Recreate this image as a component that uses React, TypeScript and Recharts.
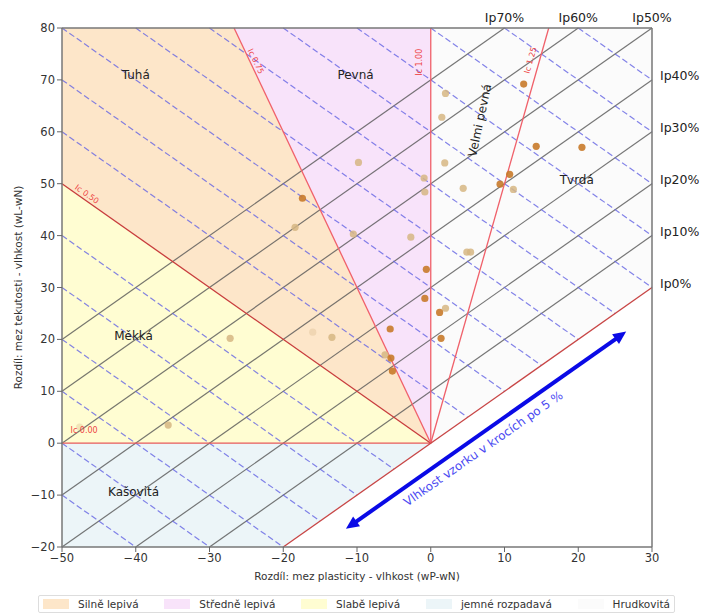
import {
  ComposedChart, Area, Scatter, XAxis, YAxis, ReferenceLine, ReferenceDot,
} from 'recharts';

const X_TICKS = [-50, -40, -30, -20, -10, 0, 10, 20, 30];
const Y_TICKS = [-20, -10, 0, 10, 20, 30, 40, 50, 60, 70, 80];

// Consistency zones, outlined as x -> [low, high] of wL-wN.
const SILNE_LEPIVA = [
  { x: -50, r: [50, 80] },
  { x: -26.67, r: [26.67, 80] },
  { x: 0, r: [0, 0] },
];
const STREDNE_LEPIVA = [
  { x: -26.67, r: [80, 80] },
  { x: 0, r: [0, 80] },
];
const SLABE_LEPIVA = [
  { x: -50, r: [0, 50] },
  { x: 0, r: [0, 0] },
];
const JEMNE_ROZPADAVA = [
  { x: -50, r: [-20, 0] },
  { x: -20, r: [-20, 0] },
  { x: 0, r: [0, 0] },
];
const HRUDKOVITA = [
  { x: 0, r: [0, 80] },
  { x: 30, r: [30, 80] },
];

const ZONES = [
  { name: 'Silně lepivá', data: SILNE_LEPIVA, fill: '#fde6c9' },
  { name: 'Středně lepivá', data: STREDNE_LEPIVA, fill: '#f8e3fa' },
  { name: 'Slabě lepivá', data: SLABE_LEPIVA, fill: '#fffdd2' },
  { name: 'jemné rozpadavá', data: JEMNE_ROZPADAVA, fill: '#ecf5f8' },
  { name: 'Hrudkovitá', data: HRUDKOVITA, fill: '#fbfbfb' },
];

// Ic boundaries and the Ip 0 line
const IC_LINES = [
  { id: 'ic000', seg: [{ x: -50, y: 0 }, { x: 0, y: 0 }], color: '#e65a5a' },
  { id: 'ic050', seg: [{ x: -50, y: 50 }, { x: 0, y: 0 }], color: '#c83c3c' },
  { id: 'ic075', seg: [{ x: -26.67, y: 80 }, { x: 0, y: 0 }], color: '#f0606a' },
  { id: 'ic100', seg: [{ x: 0, y: 80 }, { x: 0, y: 0 }], color: '#f0606a' },
  { id: 'ic125', seg: [{ x: 16, y: 80 }, { x: 0, y: 0 }], color: '#f0606a' },
  { id: 'ip0', seg: [{ x: -20, y: -20 }, { x: 30, y: 30 }], color: '#c84646' },
];

// lines of constant Ip (wL - wP), y = x + k
const IP_LEVELS = [10, 20, 30, 40, 50, 60, 70];
// moisture steps of 5 %, y = -x + c
const MOISTURE_LEVELS = [-60, -50, -40, -30, -20, -10, 10, 20, 30, 40, 50, 60, 70, 80, 90, 100];

const SAMPLES_STRONG = [
  { x: 12.6, y: 69.2 }, { x: 14.3, y: 57.2 }, { x: 20.5, y: 57.0 }, { x: -17.4, y: 47.2 },
  { x: 9.4, y: 49.9 }, { x: 10.7, y: 51.8 }, { x: -0.6, y: 33.5 }, { x: -0.8, y: 27.9 },
  { x: 1.2, y: 25.2 }, { x: -5.5, y: 22.0 }, { x: 1.4, y: 20.2 }, { x: -5.4, y: 16.4 },
  { x: -5.2, y: 13.9 },
];
const SAMPLES_LIGHT = [
  { x: 2.0, y: 67.4 }, { x: 1.5, y: 62.8 }, { x: 1.9, y: 54.0 }, { x: -9.8, y: 54.1 },
  { x: -0.9, y: 51.1 }, { x: -0.8, y: 48.4 }, { x: 4.4, y: 49.1 }, { x: 11.2, y: 48.9 },
  { x: -18.4, y: 41.6 }, { x: -10.5, y: 40.3 }, { x: -2.7, y: 39.7 }, { x: 2.0, y: 26.0 },
  { x: -13.4, y: 20.4 }, { x: -6.2, y: 17.0 }, { x: -27.2, y: 20.2 }, { x: -35.6, y: 3.5 },
  { x: 4.9, y: 36.8 }, { x: 5.4, y: 36.8 },
];
const SAMPLES_FAINT = [
  { x: -16.0, y: 21.4 }, { x: -47.6, y: 3.1 },
];

const ZONE_LABELS = [
  { text: 'Tuhá', x: -40, y: 71, angle: 0 },
  { text: 'Pevná', x: -10.2, y: 71, angle: 0 },
  { text: 'Velmi pevná', x: 6.6, y: 62.2, angle: -78 },
  { text: 'Tvrdá', x: 19.8, y: 50.7, angle: 0 },
  { text: 'Měkká', x: -40.3, y: 20.8, angle: 0 },
  { text: 'Kašovitá', x: -40.3, y: -9.4, angle: 0 },
];
const IC_LABELS = [
  { text: 'Ic 0.75', x: -23.7, y: 73.6, angle: 64 },
  { text: 'Ic 1.00', x: -1.6, y: 73.4, angle: -90 },
  { text: 'Ic 1.25', x: 13.5, y: 73.8, angle: -74 },
  { text: 'Ic 0.50', x: -46.6, y: 48.0, angle: 35 },
  { text: 'Ic 0.00', x: -47.0, y: 2.5, angle: 0 },
];
const IP_RIGHT = [
  { text: 'Ip0%', y: 30 }, { text: 'Ip10%', y: 40 }, { text: 'Ip20%', y: 50 },
  { text: 'Ip30%', y: 60 }, { text: 'Ip40%', y: 70 },
];
const IP_TOP = [
  { text: 'Ip70%', x: 10 }, { text: 'Ip60%', x: 20 }, { text: 'Ip50%', x: 30 },
];
const ARROW = [{ x: -11.5, y: -16.5 }, { x: 26.5, y: 21.5 }];
const ARROW_TEXT = { text: 'Vlhkost vzorku v krocích po 5 %', x: 7.1, y: -1.0, angle: -35 };

// clip y = x + k to the plot box
function ipSegment(k: number) {
  const a = Math.max(-50, -20 - k);
  const b = Math.min(30, 80 - k);
  return a < b ? [{ x: a, y: a + k }, { x: b, y: b + k }] : null;
}
// clip y = -x + c to the plot box, above the Ip 0 line
function moistureSegment(c: number) {
  const a = Math.max(-50, c - 80);
  const b = Math.min(30, c + 20, c / 2);
  return a < b ? [{ x: a, y: c - a }, { x: b, y: c - b }] : null;
}

const minus = (v: number) => String(v).replace('-', '\u2212');

function ArrowShape(props: any) {
  const { x1, y1, x2, y2 } = props;
  const dx = x2 - x1;
  const dy = y2 - y1;
  const len = Math.hypot(dx, dy);
  const ux = dx / len;
  const uy = dy / len;
  const head = 13;
  const wing = 6;
  const tri = (tx: number, ty: number, dir: number) => {
    const bx = tx - dir * ux * head;
    const by = ty - dir * uy * head;
    return `${tx},${ty} ${bx - uy * wing},${by + ux * wing} ${bx + uy * wing},${by - ux * wing}`;
  };
  return (
    <g>
      <line x1={x1 + ux * head * 0.8} y1={y1 + uy * head * 0.8}
        x2={x2 - ux * head * 0.8} y2={y2 - uy * head * 0.8}
        stroke="#0a0ae6" strokeWidth={4} />
      <polygon points={tri(x2, y2, 1)} fill="#0a0ae6" />
      <polygon points={tri(x1, y1, -1)} fill="#0a0ae6" />
    </g>
  );
}

const dot = (color: string, opacity: number) => (p: any) => (
  <circle cx={p.cx} cy={p.cy} r={3.6} fill={color} fillOpacity={opacity} />
);

export default function App() {
  return (
    <div style={{ width: 705, fontFamily: '"DejaVu Sans", sans-serif' }}>
      <ComposedChart width={705} height={580} margin={{ top: 20, right: 61, bottom: 6, left: 10 }}>
        <XAxis dataKey="x" type="number" domain={[-50, 30]} ticks={X_TICKS} allowDataOverflow
          tickFormatter={minus} tick={{ fontSize: 11.5, fill: '#333' }} tickSize={5}
          tickLine={{ stroke: '#666' }} axisLine={{ stroke: '#777', strokeWidth: 1.5 }} height={35}
          label={{ value: 'Rozdíl: mez plasticity - vlhkost (wP-wN)', position: 'insideBottom', offset: 2, fontSize: 10.5, fill: '#333' }} />
        <YAxis dataKey="y" type="number" domain={[-20, 80]} ticks={Y_TICKS} allowDataOverflow
          tickFormatter={minus} tick={{ fontSize: 11.5, fill: '#333' }} tickSize={5}
          tickLine={{ stroke: '#666' }} axisLine={{ stroke: '#777', strokeWidth: 1.5 }} width={44}
          label={{ value: 'Rozdíl: mez tekutosti - vlhkost (wL-wN)', angle: -90, position: 'insideLeft', offset: 0, fontSize: 10.5, fill: '#333', style: { textAnchor: 'middle' } }} />

        {ZONES.map((z) => (
          <Area key={z.name} data={z.data} dataKey="r" name={z.name} type="linear"
            stroke="none" fill={z.fill} fillOpacity={1} isAnimationActive={false} />
        ))}

        {IP_LEVELS.map((k) => {
          const s = ipSegment(k);
          return s && (
            <ReferenceLine key={`ip${k}`} segment={s} stroke="#555" strokeOpacity={0.8}
              strokeWidth={1.2} ifOverflow="visible" />
          );
        })}
        {MOISTURE_LEVELS.map((c) => {
          const s = moistureSegment(c);
          return s && (
            <ReferenceLine key={`w${c}`} segment={s} stroke="#6464e4" strokeOpacity={0.8}
              strokeWidth={1.2} strokeDasharray="6 3" ifOverflow="visible" />
          );
        })}
        {IC_LINES.map((l) => (
          <ReferenceLine key={l.id} segment={l.seg} stroke={l.color} strokeWidth={1.3}
            ifOverflow="visible" />
        ))}

        <ReferenceLine y={80} stroke="#777" strokeWidth={1.5} />
        <ReferenceLine x={30} stroke="#777" strokeWidth={1.5} />

        <ReferenceLine segment={ARROW} ifOverflow="visible" shape={ArrowShape} />

        <Scatter data={SAMPLES_FAINT} shape={dot('#d8b88a', 0.35)} isAnimationActive={false} legendType="none" />
        <Scatter data={SAMPLES_LIGHT} shape={dot('#d6b682', 0.85)} isAnimationActive={false} legendType="none" />
        <Scatter data={SAMPLES_STRONG} shape={dot('#c87a2a', 0.9)} isAnimationActive={false} legendType="none" />

        {ZONE_LABELS.map((a) => (
          <ReferenceDot key={a.text} x={a.x} y={a.y} r={0} fill="none" stroke="none" ifOverflow="visible"
            label={{ value: a.text, position: 'center', angle: a.angle, fill: '#222', fontSize: 12 }} />
        ))}
        {IC_LABELS.map((a) => (
          <ReferenceDot key={a.text} x={a.x} y={a.y} r={0} fill="none" stroke="none" ifOverflow="visible"
            label={{ value: a.text, position: 'center', angle: a.angle, fill: '#ee4444', fontSize: 8 }} />
        ))}
        {IP_RIGHT.map((a) => (
          <ReferenceDot key={a.text} x={30} y={a.y + 0.8} r={0} fill="none" stroke="none" ifOverflow="visible"
            label={{ value: a.text, position: 'right', offset: 8, fill: '#222', fontSize: 12.5 }} />
        ))}
        {IP_TOP.map((a) => (
          <ReferenceDot key={a.text} x={a.x} y={80} r={0} fill="none" stroke="none" ifOverflow="visible"
            label={{ value: a.text, position: 'top', offset: 6, fill: '#222', fontSize: 12.5 }} />
        ))}
        <ReferenceDot x={ARROW_TEXT.x} y={ARROW_TEXT.y} r={0} fill="none" stroke="none" ifOverflow="visible"
          label={{ value: ARROW_TEXT.text, position: 'center', angle: ARROW_TEXT.angle, fill: '#4b4bf2', fontSize: 12 }} />
      </ComposedChart>

      <div style={{
        marginTop: 7, marginLeft: 30, width: 637, height: 18, boxSizing: 'border-box',
        border: '1px solid #ddd', borderRadius: 2, display: 'flex', alignItems: 'center',
        justifyContent: 'space-between', padding: '0 4px', fontSize: 10.5, color: '#333',
      }}>
        {ZONES.map((z) => (
          <div key={z.name} style={{ display: 'flex', alignItems: 'center' }}>
            <span style={{ display: 'inline-block', width: 26, height: 10, background: z.fill, marginRight: 9 }} />
            <span>{z.name}</span>
          </div>
        ))}
      </div>
    </div>
  );
}
